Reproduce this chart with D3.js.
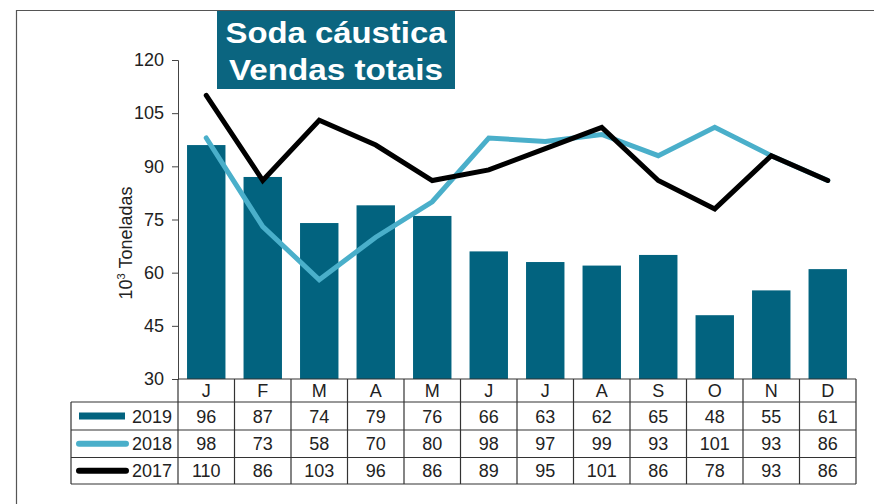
<!DOCTYPE html>
<html>
<head>
<meta charset="utf-8">
<script src="https://cdn.jsdelivr.net/npm/d3@7"></script>
<style>
  body { margin: 0; background: #fff; }
  svg { display: block; font-family: "Liberation Sans", Arial, sans-serif; }
</style>
</head>
<body>
<svg id="chart" width="874" height="504"></svg>
<script>
// data
var months = ["J", "F", "M", "A", "M", "J", "J", "A", "S", "O", "N", "D"];
var years = ["2019", "2018", "2017"];
var sales_2019 = [96, 87, 74, 79, 76, 66, 63, 62, 65, 48, 55, 61];
var sales_2018 = [98, 73, 58, 70, 80, 98, 97, 99, 93, 101, 93, 86];
var sales_2017 = [110, 86, 103, 96, 86, 89, 95, 101, 86, 78, 93, 86];
var y_ticks = [30, 45, 60, 75, 90, 105, 120];

var font = "'Liberation Sans', Arial, sans-serif";
var bar_color = "#02637f";
var light_color = "#4aafca";
var dark_color = "#000000";
var grid_color = "#333";
var text_color = "#222";

var left = 178, right = 856, top_y = 60, bottom_y = 379;
var row_lines = [379, 402, 430, 457.5, 484];
var legend_x = 71;

const svg = d3.select("#chart");

// outer frame
svg.append("line").attr("x1", 16).attr("x2", 874).attr("y1", 10.5).attr("y2", 10.5)
    .attr("stroke", "#555").attr("stroke-width", 1.2);
svg.append("line").attr("x1", 16.5).attr("x2", 16.5).attr("y1", 10).attr("y2", 504)
    .attr("stroke", "#555").attr("stroke-width", 1.2);

var x = d3.scaleBand().domain(d3.range(months.length)).range([left, right]).paddingInner(0.32).paddingOuter(0.16);
var xc = d3.scaleBand().domain(d3.range(months.length)).range([left, right]);
var y = d3.scaleLinear().domain([30, 120]).range([bottom_y, top_y]);

// bars
svg.selectAll(".bar")
    .data(sales_2019)
    .enter()
    .append("rect")
    .attr("class", "bar")
    .attr("x", (d, i) => x(i))
    .attr("width", x.bandwidth())
    .attr("y", d => y(d))
    .attr("height", d => y(30) - y(d))
    .attr("fill", bar_color);

// lines
var line = d3.line()
    .x((d, i) => xc(i) + xc.bandwidth() / 2)
    .y(d => y(d));

svg.append("path").datum(sales_2018)
    .attr("d", line).attr("fill", "none")
    .attr("stroke", light_color).attr("stroke-width", 5)
    .attr("stroke-linecap", "round");
svg.append("path").datum(sales_2017)
    .attr("d", line).attr("fill", "none")
    .attr("stroke", dark_color).attr("stroke-width", 5)
    .attr("stroke-linecap", "round");

// y axis
var y_axis = svg.append("g")
    .attr("transform", "translate(" + left + ",0)")
    .call(d3.axisLeft(y).tickValues(y_ticks).tickSize(6).tickPadding(8))
    .attr("font-family", font);
y_axis.select(".domain").attr("stroke", "#444");
y_axis.selectAll(".tick line").attr("stroke", "#444");
y_axis.selectAll(".tick text").attr("font-size", 18).attr("fill", text_color);

var ylab = svg.append("text")
    .attr("transform", "translate(132,243) rotate(-90)")
    .attr("text-anchor", "middle")
    .attr("font-size", 18)
    .attr("fill", text_color);
ylab.append("tspan").text("10");
ylab.append("tspan").text("3").attr("font-size", 11).attr("dy", -7);
ylab.append("tspan").text(" Toneladas").attr("dy", 7);

// table
var table = svg.append("g").attr("stroke", grid_color).attr("stroke-width", 1.2);
table.append("line").attr("x1", left).attr("x2", right).attr("y1", row_lines[0]).attr("y2", row_lines[0]);
row_lines.slice(1).forEach(ry => {
    table.append("line").attr("x1", legend_x).attr("x2", right).attr("y1", ry).attr("y2", ry);
});
table.append("line").attr("x1", legend_x).attr("x2", legend_x).attr("y1", row_lines[1]).attr("y2", row_lines[4]);
d3.range(months.length + 1).forEach(i => {
    var bx = i < months.length ? xc(i) : right;
    table.append("line").attr("x1", bx).attr("x2", bx).attr("y1", row_lines[0]).attr("y2", row_lines[4]);
});

svg.selectAll(".month_text")
    .data(months)
    .enter()
    .append("text")
    .attr("class", "month_text")
    .attr("x", (d, i) => xc(i) + xc.bandwidth() / 2)
    .attr("y", (row_lines[0] + row_lines[1]) / 2 + 6.5)
    .attr("text-anchor", "middle")
    .attr("font-size", 18)
    .attr("fill", text_color)
    .text(d => d);

var rows = [sales_2019, sales_2018, sales_2017];
rows.forEach((vals, r) => {
    var cy = (row_lines[r + 1] + row_lines[r + 2]) / 2 + 6.5;
    svg.selectAll(".val_" + r)
        .data(vals)
        .enter()
        .append("text")
        .attr("class", "val_" + r)
        .attr("x", (d, i) => xc(i) + xc.bandwidth() / 2)
        .attr("y", cy)
        .attr("text-anchor", "middle")
        .attr("font-size", 18)
        .attr("fill", text_color)
        .text(d => d);

    svg.append("text")
        .attr("x", 172)
        .attr("y", cy)
        .attr("text-anchor", "end")
        .attr("font-size", 18)
        .attr("fill", text_color)
        .text(years[r]);
});

// legend keys
var key_y = (r) => (row_lines[r + 1] + row_lines[r + 2]) / 2;
svg.append("rect").attr("x", 79).attr("y", key_y(0) - 3.5).attr("width", 46).attr("height", 7).attr("fill", bar_color);
svg.append("line").attr("x1", 79).attr("x2", 126).attr("y1", key_y(1)).attr("y2", key_y(1))
    .attr("stroke", light_color).attr("stroke-width", 6).attr("stroke-linecap", "round");
svg.append("line").attr("x1", 79).attr("x2", 126).attr("y1", key_y(2)).attr("y2", key_y(2))
    .attr("stroke", dark_color).attr("stroke-width", 6).attr("stroke-linecap", "round");

// title
svg.append("rect").attr("x", 217).attr("y", 11).attr("width", 238).attr("height", 78).attr("fill", "#0b6580");
svg.append("text").attr("x", 336).attr("y", 43).attr("text-anchor", "middle")
    .attr("font-size", 30).attr("font-weight", "bold").attr("fill", "#fff")
    .attr("textLength", 221).attr("lengthAdjust", "spacingAndGlyphs").text("Soda cáustica");
svg.append("text").attr("x", 336).attr("y", 80).attr("text-anchor", "middle")
    .attr("font-size", 30).attr("font-weight", "bold").attr("fill", "#fff")
    .attr("textLength", 214).attr("lengthAdjust", "spacingAndGlyphs").text("Vendas totais");
</script>
</body>
</html>
